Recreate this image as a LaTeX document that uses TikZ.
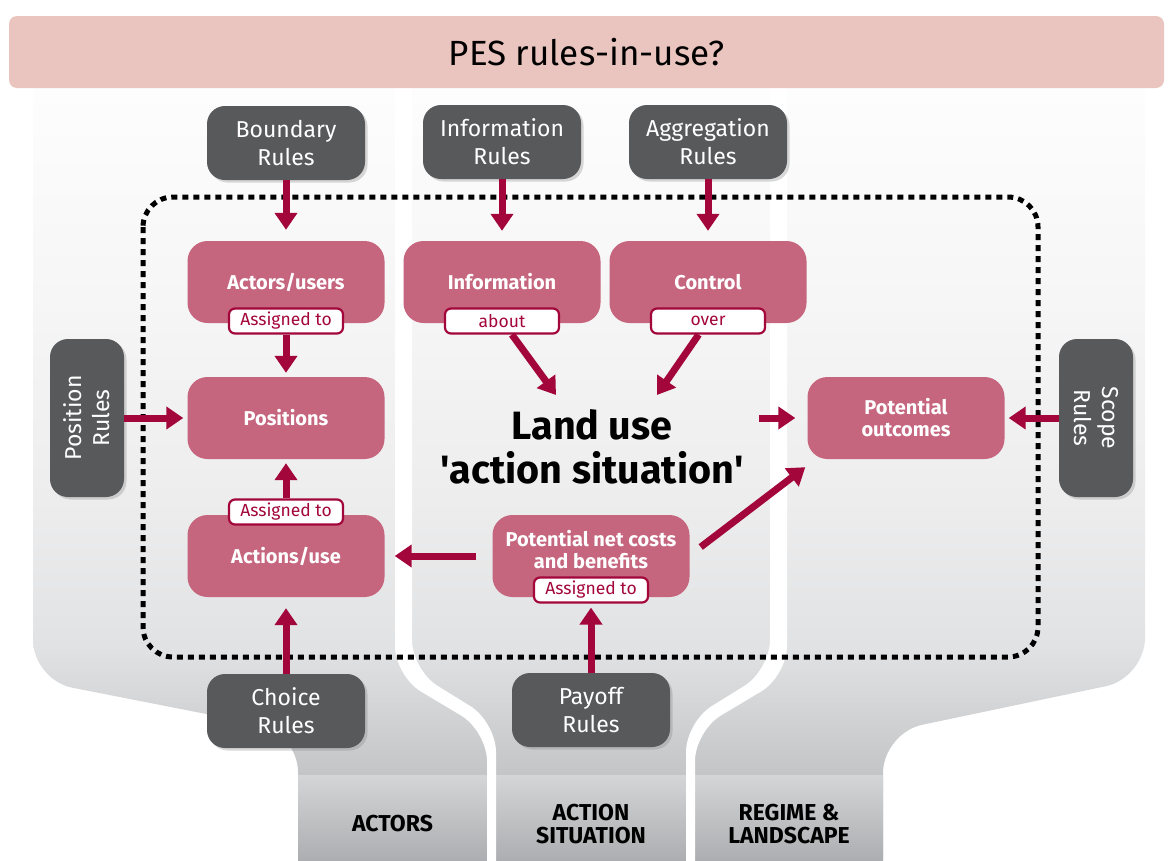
\documentclass[tikz,border=0pt]{standalone}
\usepackage{fontspec}
\setmainfont{Fira Sans}
\usetikzlibrary{arrows.meta,shadows}

\definecolor{rulegray}{HTML}{58595B}
\definecolor{boxpink}{HTML}{C5657E}
\definecolor{arrowred}{HTML}{A3063A}
\definecolor{bannerpink}{HTML}{EAC4BE}
\definecolor{bgbot}{HTML}{B3B4B6}
\definecolor{bgone}{HTML}{C3C4C6}
\definecolor{bgtwo}{HTML}{E1E2E3}
\definecolor{bgthree}{HTML}{EDEDEE}
\definecolor{bgfour}{HTML}{F6F6F6}
\definecolor{zonetop}{HTML}{D4D5D7}
\definecolor{zonebot}{HTML}{A7A8AB}

\pgfdeclareverticalshading{bgfade}{100bp}{color(0bp)=(bgbot); color(25bp)=(bgbot);
	color(32bp)=(bgone); color(39.5bp)=(bgtwo); color(48bp)=(bgthree);
	color(59.5bp)=(bgfour); color(75bp)=(white); color(100bp)=(white)}

\tikzset{
	rulebox/.style={fill=rulegray, text=white, rounded corners=18pt,
		minimum width=158pt, minimum height=74pt, align=center,
		font=\fontsize{23}{28}\selectfont,
		drop shadow={shadow xshift=2.5pt, shadow yshift=-2.5pt, opacity=0.3}},
	pinkbox/.style={fill=boxpink, text=white, rounded corners=20pt,
		minimum width=197pt, minimum height=82pt, align=center,
		font=\bfseries\fontsize{20}{22}\selectfont},
	pinklabel/.style={text=white, align=center,
		font=\bfseries\fontsize{20}{22}\selectfont},
	tagbox/.style={draw=arrowred, line width=2.2pt, fill=white, text=arrowred,
		rounded corners=6pt, minimum width=114pt, minimum height=25pt,
		inner sep=0pt, font=\fontsize{17.5}{17.5}\selectfont},
	redarrow/.style={draw=arrowred, line width=7pt,
		-{Triangle[width=22pt,length=17pt]}},
	zonebox/.style={top color=zonetop, bottom color=zonebot,
		minimum height=98pt, align=center, inner sep=0pt,
		font=\bfseries\fontsize{23}{23}\selectfont},
	dotframe/.style={line width=5pt, dash pattern=on 6pt off 5pt,
		rounded corners=30pt}
}

\begin{document}
\begin{tikzpicture}[x=1pt, y=-1pt]

	\useasboundingbox (0,0) rectangle (1168,860);
	\clip (0,0) rectangle (1168,860);

	\shade[shading=bgfade, rounded corners=40pt] (33,30) -- (33,680)
		-- (298,732) -- (298,900) -- (883,900) -- (883,733) -- (1145,678)
		-- (1145,30) -- cycle;

	\node[zonebox, minimum width=189pt] (actorszone) at (392.5,824) {ACTORS};
	\node[zonebox, minimum width=192pt] (actionzone) at (591,824) {ACTION\\SITUATION};
	\node[zonebox, minimum width=188pt] (regimezone) at (789,824) {REGIME \&\\LANDSCAPE};

	\fill[white, rounded corners=30pt] (395,30) -- (395,676) -- (487,731)
		-- (487,900) -- (496,900) -- (496,722) -- (412,670) -- (412,30) -- cycle;
	\fill[white, rounded corners=30pt] (787,30) -- (787,676) -- (695,731)
		-- (695,900) -- (686,900) -- (686,722) -- (770,670) -- (770,30) -- cycle;

	\node[fill=bannerpink, rounded corners=8pt, minimum width=1155pt,
		minimum height=72pt, font=\fontsize{35}{40}\selectfont]
		(banner) at (586.5,52) {PES rules-in-use?};

	\draw[dotframe] (143,197) rectangle (1038,657);

	\node[rulebox] (boundary) at (286,143) {Boundary\\Rules};
	\node[rulebox] (inforules) at (502,142) {Information\\Rules};
	\node[rulebox] (aggrules) at (708,142) {Aggregation\\Rules};
	\node[rulebox] (choice) at (286,711) {Choice\\Rules};
	\node[rulebox] (payoff) at (591,710) {Payoff\\Rules};
	\node[rulebox, rotate=90] (posrules) at (87,418) {Position\\Rules};
	\node[rulebox, rotate=-90] (scoperules) at (1096,418) {Scope\\Rules};

	\node[pinkbox] (actors) at (286,282) {Actors/users};
	\node[pinkbox] (information) at (502,282) {Information};
	\node[pinkbox] (control) at (708,282) {Control};
	\node[pinkbox] (positions) at (286,418) {Positions};
	\node[pinkbox] (actions) at (286,556) {Actions/use};
	\node[pinkbox] (outcomes) at (906,418) {Potential\\outcomes};
	\node[pinkbox, label={[pinklabel, yshift=6pt]center:{Potential net costs\\and benefits}}]
		(netcost) at (591,556) {};

	\node[tagbox] (assignA) at (286,321) {Assigned to};
	\node[tagbox] (about) at (502,321) {about};
	\node[tagbox] (over) at (708,321) {over};
	\node[tagbox] (assignB) at (286,512) {Assigned to};
	\node[tagbox] (assignC) at (591,590) {Assigned to};

	\node[font=\bfseries\fontsize{39.5}{44}\selectfont, align=center]
		(landuse) at (592,447) {Land use\\\textquotesingle action situation\textquotesingle};

	\coordinate (luleft) at (556,395);
	\coordinate (luright) at (657,395);
	\coordinate (luout) at (759,418);

	\draw[redarrow, shorten >=11pt] (boundary) -- (actors);
	\draw[redarrow, shorten >=10pt] (inforules) -- (information);
	\draw[redarrow, shorten >=10pt] (aggrules) -- (control);
	\draw[redarrow, shorten >=4pt] (assignA) -- (positions);
	\draw[redarrow, shorten >=4pt] (assignB) -- (positions);
	\draw[redarrow, shorten >=4pt] (posrules) -- (positions);
	\draw[redarrow, shorten >=4pt] (scoperules) -- (outcomes);
	\draw[redarrow, shorten >=11pt] (choice) -- (actions);
	\draw[redarrow, shorten >=4pt] (payoff) -- (assignC);
	\draw[redarrow, shorten <=16pt, shorten >=10pt] (netcost) -- (actions);
	\draw[redarrow] ([shift={(11pt,9pt)}]netcost.east)
		-- ([shift={(-2pt,-8pt)}]outcomes.south west);
	\draw[redarrow] (about) -- (luleft);
	\draw[redarrow] (over) -- (luright);
	\draw[redarrow, shorten >=12pt] (luout) -- (outcomes);

\end{tikzpicture}
\end{document}
